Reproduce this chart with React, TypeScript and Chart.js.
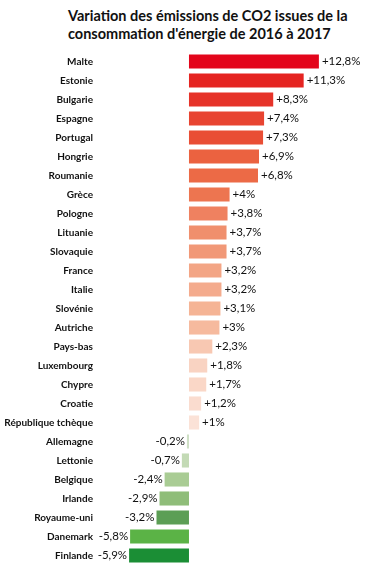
import React, { useEffect, useRef } from "react";
import { Chart, registerables } from "chart.js";

Chart.register(...registerables);

const titleLines = [
  "Variation des émissions de CO2 issues de la",
  "consommation d'énergie de 2016 à 2017",
];

const countries = [
  "Malte", "Estonie", "Bulgarie", "Espagne", "Portugal", "Hongrie", "Roumanie",
  "Grèce", "Pologne", "Lituanie", "Slovaquie", "France", "Italie", "Slovénie",
  "Autriche", "Pays-bas", "Luxembourg", "Chypre", "Croatie", "République tchèque",
  "Allemagne", "Lettonie", "Belgique", "Irlande", "Royaume-uni", "Danemark", "Finlande",
];

const variations = [
  12.8, 11.3, 8.3, 7.4, 7.3, 6.9, 6.8,
  4, 3.8, 3.7, 3.7, 3.2, 3.2, 3.1,
  3, 2.3, 1.8, 1.7, 1.2, 1,
  -0.2, -0.7, -2.4, -2.9, -3.2, -5.8, -5.9,
];

const barColors = [
  "#e3051b", "#e52421", "#e63329", "#e84431", "#e94e35", "#eb6240", "#ec6a46",
  "#ed7550", "#ef8160", "#f08f6d", "#f19877", "#f3a585", "#f4ab8d", "#f5b495",
  "#f6ba9e", "#f8c8b2", "#f9d3c2", "#fad7c7", "#fadccf", "#fbe2d7",
  "#cfe0c6", "#c3dab5", "#a9cc94", "#8fbd79", "#5c9e55", "#5bb346", "#1b8e35",
];

function fmt(v: number): string {
  const s = String(Math.abs(v)).replace(".", ",");
  return (v >= 0 ? "+" : "-") + s + "%";
}

const valueLabels = {
  id: "valueLabels",
  afterDatasetsDraw(chart: any) {
    const ctx = chart.ctx;
    const meta = chart.getDatasetMeta(0);
    ctx.save();
    ctx.font = "11.5px Lato";
    ctx.fillStyle = "#111";
    ctx.textBaseline = "middle";
    meta.data.forEach((bar: any, i: number) => {
      const v = variations[i];
      if (v >= 0) {
        ctx.textAlign = "left";
        ctx.fillText(fmt(v), bar.x + 3, bar.y);
      } else {
        ctx.textAlign = "right";
        ctx.fillText(fmt(v), bar.x - 2, bar.y);
      }
    });
    ctx.restore();
  },
};

export default function App() {
  const ref = useRef<HTMLCanvasElement>(null);
  useEffect(() => {
    const chart = new Chart(ref.current!, {
      type: "bar",
      data: {
        labels: countries,
        datasets: [
          {
            data: variations,
            backgroundColor: barColors,
            barPercentage: 0.74,
            categoryPercentage: 1,
          },
        ],
      },
      options: {
        indexAxis: "y",
        animation: false,
        responsive: false,
        maintainAspectRatio: false,
        layout: { padding: { top: 52, bottom: 3, right: 8, left: 0 } },
        plugins: { legend: { display: false }, tooltip: { enabled: false } },
        scales: {
          x: {
            display: false,
            min: -9.16,
            max: 16.85,
          },
          y: {
            afterFit(scale: any) {
              scale.width = 96;
            },
            grid: { display: false, drawTicks: false },
            border: { display: false },
            ticks: {
              padding: 3,
              color: "#111",
              font: { family: "Lato", weight: "bold", size: 10 },
              autoSkip: false,
            },
          },
        },
      },
      plugins: [valueLabels],
    });
    return () => chart.destroy();
  }, []);
  return (
    <div style={{ position: "absolute", left: 0, top: 0, width: 368, height: 574, background: "#fff" }}>
      <div
        style={{
          position: "absolute",
          left: 68,
          top: 7,
          fontFamily: "Lato",
          fontWeight: 700,
          fontSize: 14.5,
          lineHeight: "18px",
          color: "#111",
          whiteSpace: "nowrap",
        }}
      >
        {titleLines.map((l, i) => (
          <div key={i}>{l}</div>
        ))}
      </div>
      <canvas ref={ref} width={368} height={574} style={{ position: "absolute", left: 0, top: 0 }} />
    </div>
  );
}
